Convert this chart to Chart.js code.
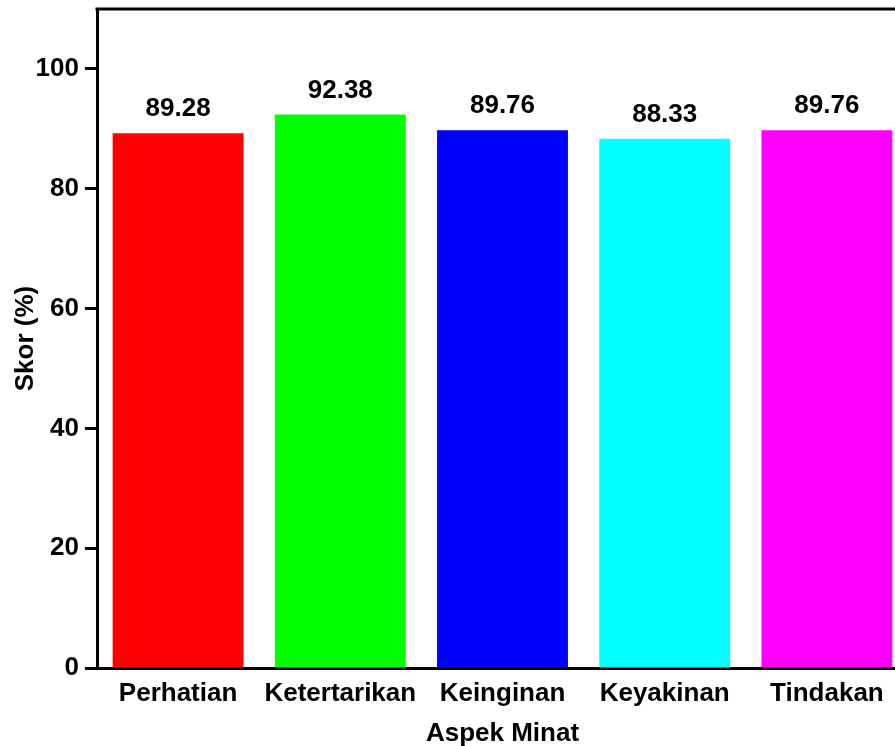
<!DOCTYPE html>
<html>
<head>
<meta charset="utf-8">
<script src="https://cdn.jsdelivr.net/npm/chart.js@4/dist/chart.umd.min.js"></script>
<style>
  html, body { margin: 0; padding: 0; background: #fff; overflow: hidden; }
  #wrap { width: 920px; height: 760px; }
</style>
</head>
<body>
<div id="wrap"><canvas id="c" width="920" height="760"></canvas></div>
<script>
// Aspek minat dan skor (%)
const categories = ['Perhatian', 'Ketertarikan', 'Keinginan', 'Keyakinan', 'Tindakan'];
const scores = [89.28, 92.38, 89.76, 88.33, 89.76];
const barColors = ['#ff0000', '#00ff00', '#0000ff', '#00ffff', '#ff00ff'];
const yTicks = [0, 20, 40, 60, 80, 100];

const FONT = '"Liberation Sans", Arial, sans-serif';

// value label above each bar + frame line along the top of the plot
const barValueLabels = {
  id: 'barValueLabels',
  afterDatasetsDraw(chart) {
    const ctx = chart.ctx;
    const meta = chart.getDatasetMeta(0);
    ctx.save();
    ctx.font = 'bold 26px ' + FONT;
    ctx.fillStyle = '#000';
    ctx.textAlign = 'center';
    ctx.textBaseline = 'alphabetic';
    meta.data.forEach((bar, i) => {
      ctx.fillText(scores[i].toFixed(2), bar.x, bar.y - 17);
    });
    ctx.restore();
  },
  afterDraw(chart) {
    const { ctx, chartArea } = chart;
    ctx.save();
    ctx.strokeStyle = '#000';
    ctx.lineWidth = 3;
    ctx.beginPath();
    ctx.moveTo(chartArea.left - 1.5, chartArea.top);
    ctx.lineTo(chartArea.right, chartArea.top);
    ctx.stroke();
    ctx.restore();
  }
};

new Chart(document.getElementById('c'), {
  type: 'bar',
  data: {
    labels: categories,
    datasets: [{
      data: scores,
      backgroundColor: barColors,
      borderWidth: 0,
      categoryPercentage: 1,
      barPercentage: 0.807
    }]
  },
  options: {
    responsive: false,
    animation: false,
    layout: { padding: { top: 9, right: 12, left: 0, bottom: 0 } },
    plugins: { legend: { display: false }, tooltip: { enabled: false } },
    scales: {
      x: {
        grid: { display: true, drawOnChartArea: false, drawTicks: false },
        border: { display: true, color: '#000', width: 3 },
        ticks: { color: '#000', font: { family: FONT, size: 26, weight: 'bold' }, padding: 10, maxRotation: 0 },
        title: { display: true, text: 'Aspek Minat', color: '#000', font: { family: FONT, size: 26, weight: 'bold' }, padding: { top: 0, bottom: 11 } },
        afterFit(scale) { scale.height = 92; }
      },
      y: {
        min: 0,
        max: 110,
        afterBuildTicks(scale) { scale.ticks = yTicks.map(v => ({ value: v })); },
        grid: { display: true, drawOnChartArea: false, drawTicks: true, tickLength: 12, tickWidth: 3, tickColor: '#000' },
        border: { display: true, color: '#000', width: 3 },
        ticks: { color: '#000', font: { family: FONT, size: 26, weight: 'bold' }, padding: 6 },
        title: { display: true, text: 'Skor (%)', color: '#000', font: { family: FONT, size: 26, weight: 'bold' }, padding: { top: 10, bottom: 0 } },
        afterFit(scale) { scale.width = 97; scale.paddingTop = 0; scale.paddingBottom = 0; }
      }
    }
  },
  plugins: [barValueLabels]
});
</script>
</body>
</html>
